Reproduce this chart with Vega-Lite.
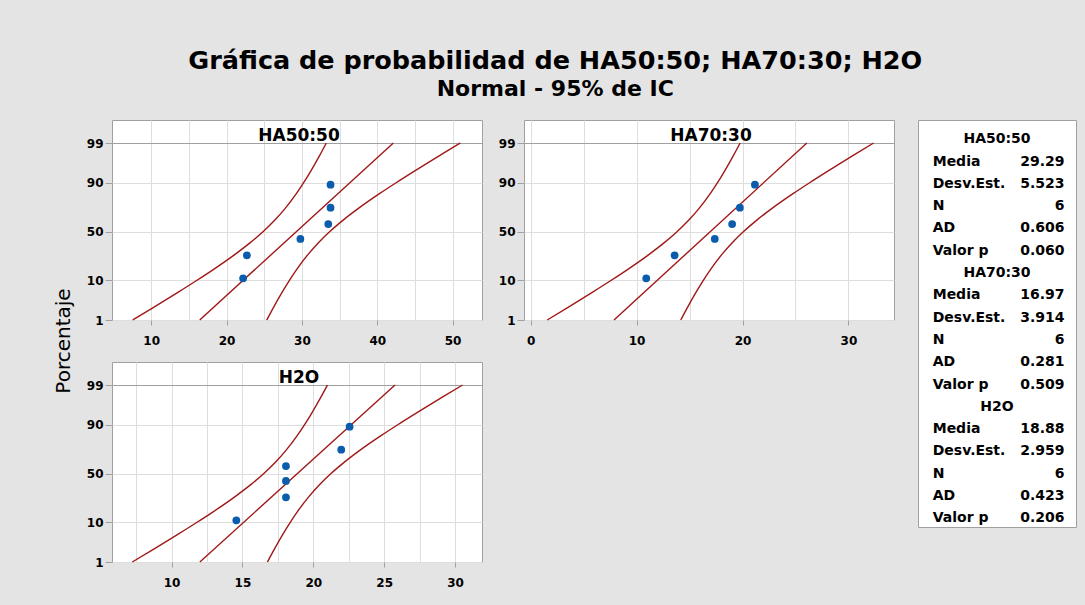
{
  "$schema": "https://vega.github.io/schema/vega-lite/v6.json",
  "background": "#e4e4e4",
  "padding": {"left": 54, "top": 49, "right": 9, "bottom": 18},
  "title": {
    "text": "Gráfica de probabilidad de HA50:50; HA70:30; H2O",
    "subtitle": "Normal - 95% de IC",
    "font": "DejaVu Sans", "fontSize": 25.5, "fontWeight": "bold", "color": "black",
    "subtitleFont": "DejaVu Sans", "subtitleFontSize": 22, "subtitleFontWeight": "bold", "subtitleColor": "black",
    "anchor": "middle", "offset": 20, "subtitlePadding": 4, "dx": -10
  },
  "datasets": {
    "lines": [
      {"panel": "HA50:50", "curve": "lo", "z": -2.326, "x": 7.549},
      {"panel": "HA50:50", "curve": "lo", "z": -2, "x": 10.269},
      {"panel": "HA50:50", "curve": "lo", "z": -1.6, "x": 13.544},
      {"panel": "HA50:50", "curve": "lo", "z": -1.2816, "x": 16.078},
      {"panel": "HA50:50", "curve": "lo", "z": -1, "x": 18.24},
      {"panel": "HA50:50", "curve": "lo", "z": -0.6, "x": 21.129},
      {"panel": "HA50:50", "curve": "lo", "z": -0.3, "x": 23.103},
      {"panel": "HA50:50", "curve": "lo", "z": 0, "x": 24.871},
      {"panel": "HA50:50", "curve": "lo", "z": 0.3, "x": 26.417},
      {"panel": "HA50:50", "curve": "lo", "z": 0.6, "x": 27.757},
      {"panel": "HA50:50", "curve": "lo", "z": 1, "x": 29.286},
      {"panel": "HA50:50", "curve": "lo", "z": 1.2816, "x": 30.234},
      {"panel": "HA50:50", "curve": "lo", "z": 1.6, "x": 31.218},
      {"panel": "HA50:50", "curve": "lo", "z": 2, "x": 32.361},
      {"panel": "HA50:50", "curve": "lo", "z": 2.326, "x": 33.241},
      {"panel": "HA50:50", "curve": "hi", "z": -2.326, "x": 25.339},
      {"panel": "HA50:50", "curve": "hi", "z": -2, "x": 26.219},
      {"panel": "HA50:50", "curve": "hi", "z": -1.6, "x": 27.362},
      {"panel": "HA50:50", "curve": "hi", "z": -1.2816, "x": 28.346},
      {"panel": "HA50:50", "curve": "hi", "z": -1, "x": 29.294},
      {"panel": "HA50:50", "curve": "hi", "z": -0.6, "x": 30.823},
      {"panel": "HA50:50", "curve": "hi", "z": -0.3, "x": 32.163},
      {"panel": "HA50:50", "curve": "hi", "z": 0, "x": 33.709},
      {"panel": "HA50:50", "curve": "hi", "z": 0.3, "x": 35.477},
      {"panel": "HA50:50", "curve": "hi", "z": 0.6, "x": 37.451},
      {"panel": "HA50:50", "curve": "hi", "z": 1, "x": 40.34},
      {"panel": "HA50:50", "curve": "hi", "z": 1.2816, "x": 42.502},
      {"panel": "HA50:50", "curve": "hi", "z": 1.6, "x": 45.036},
      {"panel": "HA50:50", "curve": "hi", "z": 2, "x": 48.311},
      {"panel": "HA50:50", "curve": "hi", "z": 2.326, "x": 51.031},
      {"panel": "HA50:50", "curve": "fit", "z": -2.326, "x": 16.444},
      {"panel": "HA50:50", "curve": "fit", "z": 2.326, "x": 42.136},
      {"panel": "HA70:30", "curve": "lo", "z": -2.326, "x": 1.563},
      {"panel": "HA70:30", "curve": "lo", "z": -2, "x": 3.491},
      {"panel": "HA70:30", "curve": "lo", "z": -1.6, "x": 5.812},
      {"panel": "HA70:30", "curve": "lo", "z": -1.2816, "x": 7.608},
      {"panel": "HA70:30", "curve": "lo", "z": -1, "x": 9.139},
      {"panel": "HA70:30", "curve": "lo", "z": -0.6, "x": 11.187},
      {"panel": "HA70:30", "curve": "lo", "z": -0.3, "x": 12.586},
      {"panel": "HA70:30", "curve": "lo", "z": 0, "x": 13.839},
      {"panel": "HA70:30", "curve": "lo", "z": 0.3, "x": 14.934},
      {"panel": "HA70:30", "curve": "lo", "z": 0.6, "x": 15.883},
      {"panel": "HA70:30", "curve": "lo", "z": 1, "x": 16.967},
      {"panel": "HA70:30", "curve": "lo", "z": 1.2816, "x": 17.64},
      {"panel": "HA70:30", "curve": "lo", "z": 1.6, "x": 18.336},
      {"panel": "HA70:30", "curve": "lo", "z": 2, "x": 19.147},
      {"panel": "HA70:30", "curve": "lo", "z": 2.326, "x": 19.771},
      {"panel": "HA70:30", "curve": "hi", "z": -2.326, "x": 14.169},
      {"panel": "HA70:30", "curve": "hi", "z": -2, "x": 14.793},
      {"panel": "HA70:30", "curve": "hi", "z": -1.6, "x": 15.604},
      {"panel": "HA70:30", "curve": "hi", "z": -1.2816, "x": 16.3},
      {"panel": "HA70:30", "curve": "hi", "z": -1, "x": 16.973},
      {"panel": "HA70:30", "curve": "hi", "z": -0.6, "x": 18.057},
      {"panel": "HA70:30", "curve": "hi", "z": -0.3, "x": 19.006},
      {"panel": "HA70:30", "curve": "hi", "z": 0, "x": 20.101},
      {"panel": "HA70:30", "curve": "hi", "z": 0.3, "x": 21.354},
      {"panel": "HA70:30", "curve": "hi", "z": 0.6, "x": 22.753},
      {"panel": "HA70:30", "curve": "hi", "z": 1, "x": 24.801},
      {"panel": "HA70:30", "curve": "hi", "z": 1.2816, "x": 26.332},
      {"panel": "HA70:30", "curve": "hi", "z": 1.6, "x": 28.128},
      {"panel": "HA70:30", "curve": "hi", "z": 2, "x": 30.449},
      {"panel": "HA70:30", "curve": "hi", "z": 2.326, "x": 32.377},
      {"panel": "HA70:30", "curve": "fit", "z": -2.326, "x": 7.866},
      {"panel": "HA70:30", "curve": "fit", "z": 2.326, "x": 26.074},
      {"panel": "H2O", "curve": "lo", "z": -2.326, "x": 7.231},
      {"panel": "H2O", "curve": "lo", "z": -2, "x": 8.689},
      {"panel": "H2O", "curve": "lo", "z": -1.6, "x": 10.444},
      {"panel": "H2O", "curve": "lo", "z": -1.2816, "x": 11.802},
      {"panel": "H2O", "curve": "lo", "z": -1, "x": 12.96},
      {"panel": "H2O", "curve": "lo", "z": -0.6, "x": 14.508},
      {"panel": "H2O", "curve": "lo", "z": -0.3, "x": 15.565},
      {"panel": "H2O", "curve": "lo", "z": 0, "x": 16.512},
      {"panel": "H2O", "curve": "lo", "z": 0.3, "x": 17.341},
      {"panel": "H2O", "curve": "lo", "z": 0.6, "x": 18.058},
      {"panel": "H2O", "curve": "lo", "z": 1, "x": 18.878},
      {"panel": "H2O", "curve": "lo", "z": 1.2816, "x": 19.386},
      {"panel": "H2O", "curve": "lo", "z": 1.6, "x": 19.912},
      {"panel": "H2O", "curve": "lo", "z": 2, "x": 20.525},
      {"panel": "H2O", "curve": "lo", "z": 2.326, "x": 20.997},
      {"panel": "H2O", "curve": "hi", "z": -2.326, "x": 16.763},
      {"panel": "H2O", "curve": "hi", "z": -2, "x": 17.235},
      {"panel": "H2O", "curve": "hi", "z": -1.6, "x": 17.848},
      {"panel": "H2O", "curve": "hi", "z": -1.2816, "x": 18.374},
      {"panel": "H2O", "curve": "hi", "z": -1, "x": 18.882},
      {"panel": "H2O", "curve": "hi", "z": -0.6, "x": 19.702},
      {"panel": "H2O", "curve": "hi", "z": -0.3, "x": 20.419},
      {"panel": "H2O", "curve": "hi", "z": 0, "x": 21.248},
      {"panel": "H2O", "curve": "hi", "z": 0.3, "x": 22.195},
      {"panel": "H2O", "curve": "hi", "z": 0.6, "x": 23.252},
      {"panel": "H2O", "curve": "hi", "z": 1, "x": 24.8},
      {"panel": "H2O", "curve": "hi", "z": 1.2816, "x": 25.958},
      {"panel": "H2O", "curve": "hi", "z": 1.6, "x": 27.316},
      {"panel": "H2O", "curve": "hi", "z": 2, "x": 29.071},
      {"panel": "H2O", "curve": "hi", "z": 2.326, "x": 30.529},
      {"panel": "H2O", "curve": "fit", "z": -2.326, "x": 11.997},
      {"panel": "H2O", "curve": "fit", "z": 2.326, "x": 25.763}
    ],
    "pts": [
      {"panel": "HA50:50", "x": 22.2, "z": -1.229},
      {"panel": "HA50:50", "x": 22.7, "z": -0.626},
      {"panel": "HA50:50", "x": 29.8, "z": -0.197},
      {"panel": "HA50:50", "x": 33.5, "z": 0.197},
      {"panel": "HA50:50", "x": 33.8, "z": 0.626},
      {"panel": "HA50:50", "x": 33.8, "z": 1.229},
      {"panel": "HA70:30", "x": 10.91, "z": -1.229},
      {"panel": "HA70:30", "x": 13.59, "z": -0.626},
      {"panel": "HA70:30", "x": 17.38, "z": -0.197},
      {"panel": "HA70:30", "x": 19.02, "z": 0.197},
      {"panel": "HA70:30", "x": 19.75, "z": 0.626},
      {"panel": "HA70:30", "x": 21.17, "z": 1.229},
      {"panel": "H2O", "x": 14.57, "z": -1.229},
      {"panel": "H2O", "x": 18.07, "z": -0.626},
      {"panel": "H2O", "x": 18.07, "z": -0.197},
      {"panel": "H2O", "x": 18.07, "z": 0.197},
      {"panel": "H2O", "x": 21.97, "z": 0.626},
      {"panel": "H2O", "x": 22.56, "z": 1.229}
    ],
    "leg": [
      {"row": 0, "kind": "head", "label": "HA50:50", "value": ""},
      {"row": 1, "kind": "stat", "label": "Media", "value": "29.29"},
      {"row": 2, "kind": "stat", "label": "Desv.Est.", "value": "5.523"},
      {"row": 3, "kind": "stat", "label": "N", "value": "6"},
      {"row": 4, "kind": "stat", "label": "AD", "value": "0.606"},
      {"row": 5, "kind": "stat", "label": "Valor p", "value": "0.060"},
      {"row": 6, "kind": "head", "label": "HA70:30", "value": ""},
      {"row": 7, "kind": "stat", "label": "Media", "value": "16.97"},
      {"row": 8, "kind": "stat", "label": "Desv.Est.", "value": "3.914"},
      {"row": 9, "kind": "stat", "label": "N", "value": "6"},
      {"row": 10, "kind": "stat", "label": "AD", "value": "0.281"},
      {"row": 11, "kind": "stat", "label": "Valor p", "value": "0.509"},
      {"row": 12, "kind": "head", "label": "H2O", "value": ""},
      {"row": 13, "kind": "stat", "label": "Media", "value": "18.88"},
      {"row": 14, "kind": "stat", "label": "Desv.Est.", "value": "2.959"},
      {"row": 15, "kind": "stat", "label": "N", "value": "6"},
      {"row": 16, "kind": "stat", "label": "AD", "value": "0.423"},
      {"row": 17, "kind": "stat", "label": "Valor p", "value": "0.206"}
    ]
  },
  "config": {
    "view": {"stroke": "#a0a0a0", "fill": "white", "strokeWidth": 1},
    "axis": {
      "domain": false, "labelFont": "DejaVu Sans", "labelFontWeight": "bold", "labelFontSize": 12,
      "labelColor": "black", "tickColor": "#a0a0a0", "gridColor": "#dedede", "gridWidth": 1,
      "labelFlush": false, "titleFont": "DejaVu Sans", "titleFontWeight": "normal", "titleColor": "black"
    },
    "axisX": {"tickSize": 5, "labelPadding": 10},
    "axisY": {"tickSize": 7, "labelPadding": 2}
  },
  "hconcat": [
    {
      "width": 20, "height": 442,
      "view": {"stroke": null, "fill": null},
      "data": {"values": [{"t": "Porcentaje"}]},
      "mark": {"type": "text", "angle": 270, "font": "DejaVu Sans", "fontSize": 20, "align": "center", "baseline": "middle", "color": "black"},
      "encoding": {"text": {"field": "t"}}
    },
    {
      "hconcat": [
        {
          "vconcat": [
            {
              "hconcat": [
                {
                  "width": 370, "height": 200,
                  "title": {"text": "HA50:50", "frame": "group", "anchor": "middle", "offset": -38, "baseline": "alphabetic", "dx": 2, "font": "DejaVu Sans", "fontSize": 17, "fontWeight": "bold", "color": "black"},
                  "encoding": {
                    "x": {"field": "x", "type": "quantitative", "scale": {"domain": [4.8, 53.9], "nice": false, "zero": false},
                      "axis": {"title": null, "values": [10, 15, 20, 25, 30, 35, 40, 45, 50], "labelExpr": "datum.value % 10 == 0 ? datum.label : ''", "tickOpacity": {"condition": {"test": "datum.value % 10 != 0", "value": 0}, "value": 1}}},
                    "y": {"field": "z", "type": "quantitative", "scale": {"domain": [-2.326, 2.9305], "nice": false, "zero": false},
                      "axis": {"title": null, "values": [-2.326, -1.2816, 0, 1.2816, 2.326],
                        "labelExpr": "datum.value < -2 ? '1' : datum.value < -1 ? '10' : datum.value < 1 ? '50' : datum.value < 2 ? '90' : '99'",
                        "gridColor": {"condition": {"test": "datum.value > 2", "value": "#a0a0a0"}, "value": "#dedede"}}}
                  },
                  "layer": [
                    {"data": {"name": "lines"}, "transform": [{"filter": "datum.panel == 'HA50:50'"}],
                      "mark": {"type": "line", "color": "#a01818", "strokeWidth": 1.4, "interpolate": "monotone"},
                      "encoding": {"detail": {"field": "curve"}, "order": {"field": "z", "type": "quantitative"}}},
                    {"data": {"name": "pts"}, "transform": [{"filter": "datum.panel == 'HA50:50'"}],
                      "mark": {"type": "point", "filled": true, "color": "#0b5cad", "opacity": 1, "size": 60}}
                  ]
                },
                {
                  "width": 370, "height": 200,
                  "title": {"text": "HA70:30", "frame": "group", "anchor": "middle", "offset": -38, "baseline": "alphabetic", "dx": 2, "font": "DejaVu Sans", "fontSize": 17, "fontWeight": "bold", "color": "black"},
                  "encoding": {
                    "x": {"field": "x", "type": "quantitative", "scale": {"domain": [-0.63, 34.3], "nice": false, "zero": false},
                      "axis": {"title": null, "values": [0, 5, 10, 15, 20, 25, 30], "labelExpr": "datum.value % 10 == 0 ? datum.label : ''", "tickOpacity": {"condition": {"test": "datum.value % 10 != 0", "value": 0}, "value": 1}}},
                    "y": {"field": "z", "type": "quantitative", "scale": {"domain": [-2.326, 2.9305], "nice": false, "zero": false},
                      "axis": {"title": null, "values": [-2.326, -1.2816, 0, 1.2816, 2.326],
                        "labelExpr": "datum.value < -2 ? '1' : datum.value < -1 ? '10' : datum.value < 1 ? '50' : datum.value < 2 ? '90' : '99'",
                        "gridColor": {"condition": {"test": "datum.value > 2", "value": "#a0a0a0"}, "value": "#dedede"}}}
                  },
                  "layer": [
                    {"data": {"name": "lines"}, "transform": [{"filter": "datum.panel == 'HA70:30'"}],
                      "mark": {"type": "line", "color": "#a01818", "strokeWidth": 1.4, "interpolate": "monotone"},
                      "encoding": {"detail": {"field": "curve"}, "order": {"field": "z", "type": "quantitative"}}},
                    {"data": {"name": "pts"}, "transform": [{"filter": "datum.panel == 'HA70:30'"}],
                      "mark": {"type": "point", "filled": true, "color": "#0b5cad", "opacity": 1, "size": 60}}
                  ]
                }
              ],
              "spacing": 14
            },
            {
              "width": 370, "height": 200,
              "title": {"text": "H2O", "frame": "group", "anchor": "middle", "offset": -38, "baseline": "alphabetic", "dx": 2, "font": "DejaVu Sans", "fontSize": 17, "fontWeight": "bold", "color": "black"},
              "encoding": {
                "x": {"field": "x", "type": "quantitative", "scale": {"domain": [5.8, 31.9], "nice": false, "zero": false},
                  "axis": {"title": null, "values": [7.5, 10, 12.5, 15, 17.5, 20, 22.5, 25, 27.5, 30], "labelExpr": "datum.value % 5 == 0 ? datum.label : ''", "tickOpacity": {"condition": {"test": "datum.value % 5 != 0", "value": 0}, "value": 1}}},
                "y": {"field": "z", "type": "quantitative", "scale": {"domain": [-2.326, 2.9305], "nice": false, "zero": false},
                  "axis": {"title": null, "values": [-2.326, -1.2816, 0, 1.2816, 2.326],
                    "labelExpr": "datum.value < -2 ? '1' : datum.value < -1 ? '10' : datum.value < 1 ? '50' : datum.value < 2 ? '90' : '99'",
                    "gridColor": {"condition": {"test": "datum.value > 2", "value": "#a0a0a0"}, "value": "#dedede"}}}
              },
              "layer": [
                {"data": {"name": "lines"}, "transform": [{"filter": "datum.panel == 'H2O'"}],
                  "mark": {"type": "line", "color": "#a01818", "strokeWidth": 1.4, "interpolate": "monotone"},
                  "encoding": {"detail": {"field": "curve"}, "order": {"field": "z", "type": "quantitative"}}},
                {"data": {"name": "pts"}, "transform": [{"filter": "datum.panel == 'H2O'"}],
                  "mark": {"type": "point", "filled": true, "color": "#0b5cad", "opacity": 1, "size": 60}}
              ]
            }
          ],
          "spacing": 14
        },
        {
          "width": 158, "height": 407,
          "data": {"name": "leg"},
          "encoding": {
            "y": {"field": "row", "type": "quantitative", "scale": {"domain": [-0.865, 17.39], "reverse": true, "nice": false, "zero": false}, "axis": null}
          },
          "layer": [
            {"transform": [{"filter": "datum.kind == 'head'"}],
              "mark": {"type": "text", "align": "center", "baseline": "middle", "font": "DejaVu Sans", "fontWeight": "bold", "fontSize": 14, "color": "black"},
              "encoding": {"x": {"datum": 0.5, "type": "quantitative", "scale": {"domain": [0, 1], "nice": false}, "axis": null}, "text": {"field": "label"}}},
            {"transform": [{"filter": "datum.kind == 'stat'"}],
              "mark": {"type": "text", "align": "left", "baseline": "middle", "font": "DejaVu Sans", "fontWeight": "bold", "fontSize": 14, "color": "black"},
              "encoding": {"x": {"datum": 0.093, "type": "quantitative", "scale": {"domain": [0, 1], "nice": false}, "axis": null}, "text": {"field": "label"}}},
            {"transform": [{"filter": "datum.kind == 'stat'"}],
              "mark": {"type": "text", "align": "right", "baseline": "middle", "font": "DejaVu Sans", "fontWeight": "bold", "fontSize": 14, "color": "black"},
              "encoding": {"x": {"datum": 0.927, "type": "quantitative", "scale": {"domain": [0, 1], "nice": false}, "axis": null}, "text": {"field": "value"}}}
          ]
        }
      ],
      "spacing": 22
    }
  ],
  "spacing": 11
}
